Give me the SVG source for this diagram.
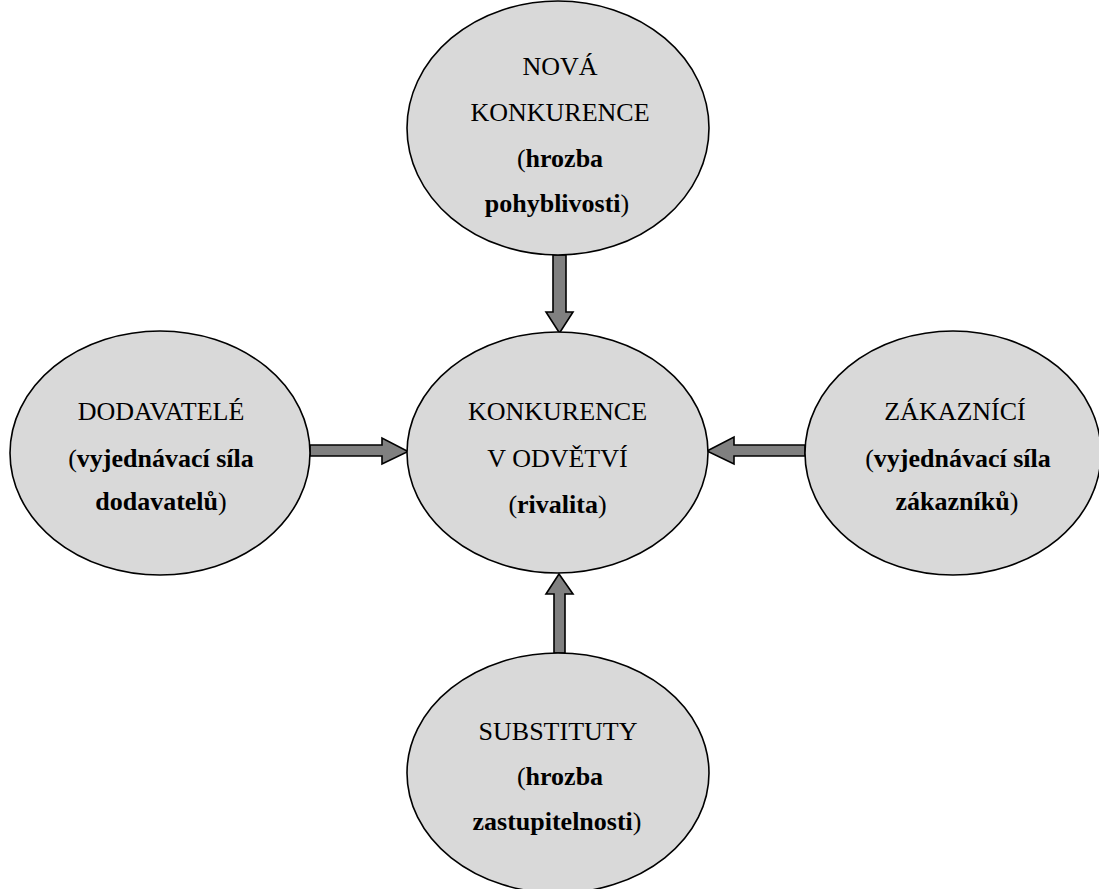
<svg xmlns="http://www.w3.org/2000/svg" width="1099" height="889" viewBox="0 0 1099 889">
<style>
.node ellipse{fill:#d9d9d9;stroke:#000;stroke-width:1.6}
text{font-family:"Liberation Serif","Times New Roman",serif;font-size:26px;fill:#000;text-anchor:middle}
.b{font-weight:bold}
.arr{fill:#808080;stroke:#000;stroke-width:1.6;stroke-linejoin:miter}
</style>
<rect width="1099" height="889" fill="#fff"/>
<g id="connectors">
<polygon class="arr" points="553,255 566,255 566,312 573,312 559.5,333 546,312 553,312"/>
<polygon class="arr" points="310,445 382,445 382,438 408,451.5 382,464 382,456 310,456"/>
<polygon class="arr" points="805,445 734,445 734,437 707,451 734,464 734,456 805,456"/>
<polygon class="arr" points="554,653 565,653 565,594 573,594 559,574 546,594 554,594"/>
</g>
<g id="node-top" class="node">
<ellipse cx="558" cy="128" rx="151" ry="127"/>
<text x="560" y="75">NOVÁ</text>
<text x="560" y="121">KONKURENCE</text>
<text x="560" y="167">(<tspan class="b">hrozba</tspan></text>
<text x="557" y="212"><tspan class="b">pohyblivosti</tspan>)</text>
</g>
<g id="node-center" class="node">
<ellipse cx="557.5" cy="452.5" rx="150.5" ry="120.5"/>
<text x="557.5" y="420">KONKURENCE</text>
<text x="557.5" y="467">V ODVĚTVÍ</text>
<text x="557.5" y="513">(<tspan class="b">rivalita</tspan>)</text>
</g>
<g id="node-left" class="node">
<ellipse cx="160" cy="453" rx="150" ry="122"/>
<text x="161" y="420">DODAVATELÉ</text>
<text x="161" y="467">(<tspan class="b">vyjednávací síla</tspan></text>
<text x="161" y="510"><tspan class="b">dodavatelů</tspan>)</text>
</g>
<g id="node-right" class="node">
<ellipse cx="953" cy="453" rx="148" ry="122"/>
<text x="955" y="420">ZÁKAZNÍCÍ</text>
<text x="958" y="467">(<tspan class="b">vyjednávací síla</tspan></text>
<text x="957" y="510"><tspan class="b">zákazníků</tspan>)</text>
</g>
<g id="node-bottom" class="node">
<ellipse cx="558" cy="773" rx="151" ry="120"/>
<text x="558" y="740">SUBSTITUTY</text>
<text x="560" y="785">(<tspan class="b">hrozba</tspan></text>
<text x="557" y="830"><tspan class="b">zastupitelnosti</tspan>)</text>
</g>
</svg>
